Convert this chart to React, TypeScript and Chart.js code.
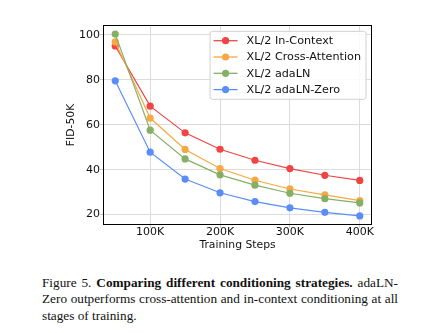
import React, { useEffect, useRef } from "react";
import { Chart, registerables } from "chart.js";

Chart.register(...registerables);

const steps = [50, 100, 150, 200, 250, 300, 350, 400];
const inContext = [95.1, 68.3, 56.4, 49.1, 44.2, 40.5, 37.5, 35.2];
const crossAttention = [96.9, 63.0, 49.0, 40.5, 35.3, 31.4, 28.8, 26.2];
const adaLN = [100.4, 57.6, 44.8, 37.7, 33.1, 29.5, 27.1, 25.2];
const adaLNZero = [79.6, 47.8, 35.8, 29.7, 25.8, 23.0, 21.0, 19.4];

const seriesLabels = ["XL/2 In-Context", "XL/2 Cross-Attention", "XL/2 adaLN", "XL/2 adaLN-Zero"];
const seriesColors = ["#f14545", "#f8a843", "#84b065", "#5b8df8"];
const xTickValues = [100, 200, 300, 400];
const yTickValues = [20, 40, 60, 80, 100];
const xTitle = "Training Steps";
const yTitle = "FID-50K";

const FONT = "'DejaVu Sans', sans-serif";
const CANVAS_W = 422;
const CANVAS_H = 258;

function range(vals: number[]) {
  const lo = Math.min(...vals);
  const hi = Math.max(...vals);
  const m = (hi - lo) * 0.05;
  return [lo - m, hi + m];
}

const framePlugin = {
  id: "frameLegend",
  afterDraw(chart: any) {
    const ctx = chart.ctx;
    const a = chart.chartArea;
    ctx.save();
    // frame
    ctx.strokeStyle = "#000";
    ctx.lineWidth = 1;
    ctx.strokeRect(Math.round(a.left) + 0.5, Math.round(a.top) + 0.5, Math.round(a.right - a.left) - 1, Math.round(a.bottom - a.top) - 1);
    // legend
    const fs = 11.2;
    ctx.font = `${fs}px ${FONT}`;
    const labels = chart.data.datasets.map((d: any) => d.label);
    const maxW = Math.max(...labels.map((l: string) => ctx.measureText(l).width));
    const padL = 3.5;
    const padR = 5;
    const handle = 24;
    const tpad = 9;
    const rowH = 16.3;
    const w = padL + handle + tpad + maxW + padR;
    const h = 68;
    const right = a.right - 6;
    const top = a.top + 6.3;
    const left = right - w;
    ctx.beginPath();
    const r = 2.5;
    ctx.moveTo(left + r, top);
    ctx.lineTo(right - r, top);
    ctx.quadraticCurveTo(right, top, right, top + r);
    ctx.lineTo(right, top + h - r);
    ctx.quadraticCurveTo(right, top + h, right - r, top + h);
    ctx.lineTo(left + r, top + h);
    ctx.quadraticCurveTo(left, top + h, left, top + h - r);
    ctx.lineTo(left, top + r);
    ctx.quadraticCurveTo(left, top, left + r, top);
    ctx.closePath();
    ctx.fillStyle = "rgba(255,255,255,0.85)";
    ctx.fill();
    ctx.strokeStyle = "#d0d0d0";
    ctx.lineWidth = 1;
    ctx.stroke();
    chart.data.datasets.forEach((d: any, i: number) => {
      const cy = top + 9.4 + rowH * i;
      const x0 = left + padL;
      ctx.strokeStyle = d.borderColor;
      ctx.lineWidth = 1.3;
      ctx.beginPath();
      ctx.moveTo(x0, cy);
      ctx.lineTo(x0 + handle, cy);
      ctx.stroke();
      ctx.fillStyle = d.borderColor;
      ctx.beginPath();
      ctx.arc(x0 + handle / 2, cy, 3.6, 0, Math.PI * 2);
      ctx.fill();
      ctx.fillStyle = "#111";
      ctx.textBaseline = "middle";
      ctx.textAlign = "left";
      ctx.fillText(d.label, x0 + handle + tpad, cy + 0.5);
    });
    ctx.restore();
  },
};

export default function App() {
  const ref = useRef<HTMLCanvasElement | null>(null);
  useEffect(() => {
    if (!ref.current) return;
    const allSeries = [inContext, crossAttention, adaLN, adaLNZero];
    const [xmin, xmax] = range(steps);
    const [ymin, ymax] = range(allSeries.flat());
    const chart = new Chart(ref.current, {
      type: "line",
      data: {
        datasets: allSeries.map((s, i) => ({
          label: seriesLabels[i],
          data: s.map((v, j) => ({ x: steps[j], y: v })),
          borderColor: seriesColors[i],
          backgroundColor: seriesColors[i],
          pointBackgroundColor: seriesColors[i],
          pointBorderWidth: 0,
          pointRadius: 3.6,
          borderWidth: 1.2,
          tension: 0,
          order: allSeries.length - 1 - i,
        })),
      },
      options: {
        animation: false,
        responsive: false,
        devicePixelRatio: 1,
        layout: { padding: { top: 25, right: 50, left: 0, bottom: 0 } },
        plugins: { legend: { display: false }, tooltip: { enabled: false } },
        scales: {
          x: {
            type: "linear",
            min: xmin,
            max: xmax,
            afterBuildTicks: (s: any) => {
              s.ticks = xTickValues.map((v) => ({ value: v }));
            },
            afterFit: (s: any) => {
              s.height = CANVAS_H - 225;
            },
            ticks: {
              callback: (v: any) => `${v}K`,
              color: "#111",
              font: { family: FONT, size: 11, lineHeight: 1 },
              padding: -1,
              maxRotation: 0,
              autoSkip: false,
            },
            grid: { color: "#dcdcdc", lineWidth: 1, tickLength: 3, tickColor: "#cccccc" },
            border: { display: false },
            title: {
              display: true,
              text: xTitle,
              color: "#111",
              font: { family: FONT, size: 10.8 },
              padding: { top: 0, bottom: 6.5 },
            },
          },
          y: {
            type: "linear",
            min: ymin,
            max: ymax,
            afterBuildTicks: (s: any) => {
              s.ticks = yTickValues.map((v) => ({ value: v }));
            },
            afterFit: (s: any) => {
              s.width = 103;
            },
            ticks: {
              color: "#111",
              font: { family: FONT, size: 11 },
              padding: 0,
              autoSkip: false,
            },
            grid: { color: "#dcdcdc", lineWidth: 1, tickLength: 3, tickColor: "#cccccc" },
            border: { display: false },
            title: {
              display: true,
              text: yTitle,
              color: "#111",
              font: { family: FONT, size: 10.8 },
              padding: { top: 65, bottom: 0 },
            },
          },
        },
      },
      plugins: [framePlugin],
    } as any);
    return () => chart.destroy();
  }, []);

  const lineStyle: React.CSSProperties = {
    height: "16.5px",
    lineHeight: "16.5px",
    textAlign: "justify",
    textAlignLast: "justify" as any,
    whiteSpace: "nowrap",
  };

  return (
    <div style={{ position: "absolute", left: 0, top: 0, width: CANVAS_W, height: 333, background: "#fff" }}>
      <canvas ref={ref} width={CANVAS_W} height={CANVAS_H} style={{ position: "absolute", left: 0, top: 0, width: CANVAS_W, height: CANVAS_H }} />
      <div
        style={{
          position: "absolute",
          left: 42,
          top: 274.5,
          width: 356,
          fontFamily: "'Liberation Serif', 'Times New Roman', serif",
          fontSize: "13.25px",
          color: "#111",
        }}
      >
        <div style={lineStyle}>
          Figure 5. <b>Comparing different conditioning strategies.</b> adaLN-
        </div>
        <div style={lineStyle}>Zero outperforms cross-attention and in-context conditioning at all</div>
        <div style={{ ...lineStyle, textAlignLast: "left" as any, textAlign: "left" }}>stages of training.</div>
      </div>
    </div>
  );
}
